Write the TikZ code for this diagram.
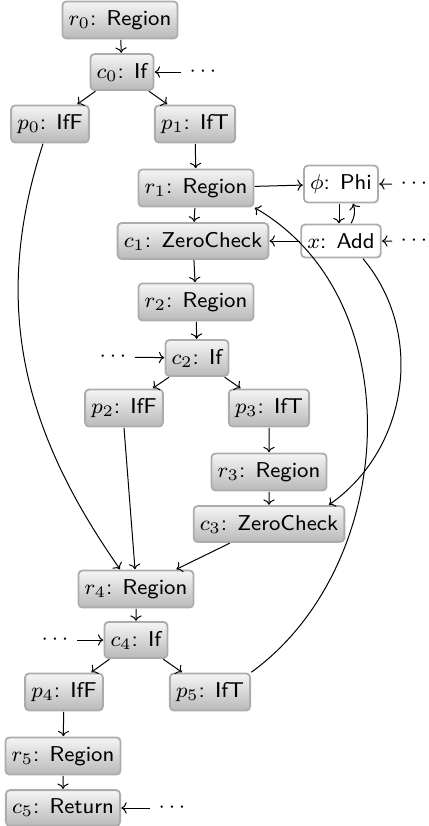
\documentclass[tikz,border=0pt]{standalone}
\usetikzlibrary{arrows.meta}
\begin{document}
\begin{tikzpicture}[x=0.5pt,y=-0.5pt,font=\sffamily\fontsize{8}{10}\selectfont,
  base/.style={scale=1.34,draw=gray!65,line width=0.9pt,rounded corners=2pt,minimum height=12.3pt,inner xsep=2.3pt},
  ctrl/.style={base,top color=gray!8,bottom color=gray!55},
  datan/.style={base,fill=white},
  dotn/.style={scale=1.34,inner xsep=3pt,inner ysep=1pt},
  conn/.style={->,line width=0.5pt}]
\useasboundingbox (0,0) rectangle (429,826);
\node[ctrl] (r0) at (120,20) {$r_0$: Region};
\node[ctrl] (c0) at (122,72) {$c_0$: If};
\node[ctrl] (p0) at (50,124) {$p_0$: IfF};
\node[ctrl] (p1) at (195,124) {$p_1$: IfT};
\node[ctrl] (r1) at (196,188) {$r_1$: Region};
\node[datan] (phi) at (341,184) {$\phi$: Phi};
\node[ctrl] (c1) at (193,241) {$c_1$: ZeroCheck};
\node[datan] (x) at (341,241) {$x$: Add};
\node[ctrl] (r2) at (196,302) {$r_2$: Region};
\node[ctrl] (c2) at (197,358) {$c_2$: If};
\node[ctrl] (p2) at (124,408) {$p_2$: IfF};
\node[ctrl] (p3) at (269,408) {$p_3$: IfT};
\node[ctrl] (r3) at (269,472) {$r_3$: Region};
\node[ctrl] (c3) at (269,524) {$c_3$: ZeroCheck};
\node[ctrl] (r4) at (136,589) {$r_4$: Region};
\node[ctrl] (c4) at (136,640) {$c_4$: If};
\node[ctrl] (p4) at (64,692) {$p_4$: IfF};
\node[ctrl] (p5) at (210,692) {$p_5$: IfT};
\node[ctrl] (r5) at (63,756) {$r_5$: Region};
\node[ctrl] (c5) at (63,808) {$c_5$: Return};
\node[dotn] (d0) at (203,72) {$\cdots$};
\node[dotn] (dphi) at (414,184) {$\cdots$};
\node[dotn] (dx) at (414,241) {$\cdots$};
\node[dotn] (d2) at (113,357) {$\cdots$};
\node[dotn] (d4) at (55,640) {$\cdots$};
\node[dotn] (d5) at (172,808) {$\cdots$};
\draw[conn] (r0) -- (c0);
\draw[conn] (d0) -- (c0);
\draw[conn] (c0) -- (p0);
\draw[conn] (c0) -- (p1);
\draw[conn] (p1) -- (r1);
\draw[conn] (r1) -- (phi);
\draw[conn] (dphi) -- (phi);
\draw[conn] (dx) -- (x);
\draw[conn] ([xshift=-1pt]phi.south) -- ([xshift=-1pt]x.north);
\draw[conn] ([xshift=5pt]x.north) to[out=60,in=-70] ([xshift=6pt]phi.south);
\draw[conn] (r1) -- (c1);
\draw[conn] (x) -- (c1);
\draw[conn] (c1) -- (r2);
\draw[conn] (r2) -- (c2);
\draw[conn] (d2) -- (c2);
\draw[conn] (c2) -- (p2);
\draw[conn] (c2) -- (p3);
\draw[conn] (p3) -- (r3);
\draw[conn] (r3) -- (c3);
\draw[conn] ([xshift=11pt]x.south) to[out=-50,in=35] ([xshift=30pt]c3.north);
\draw[conn] ([xshift=-3.5pt]p0.south) to[out=-108,in=125] ([xshift=-8pt]r4.north);
\draw[conn] (p2.south) -- ([xshift=-0.5pt]r4.north);
\draw[conn] (c3) -- (r4);
\draw[conn] (r4) -- (c4);
\draw[conn] (d4) -- (c4);
\draw[conn] (c4) -- (p4);
\draw[conn] (c4) -- (p5);
\draw[conn] (p5.north east) to[out=36,in=-30] (r1.south east);
\draw[conn] (p4) -- (r5);
\draw[conn] (r5) -- (c5);
\draw[conn] (d5) -- (c5);
\end{tikzpicture}
\end{document}
